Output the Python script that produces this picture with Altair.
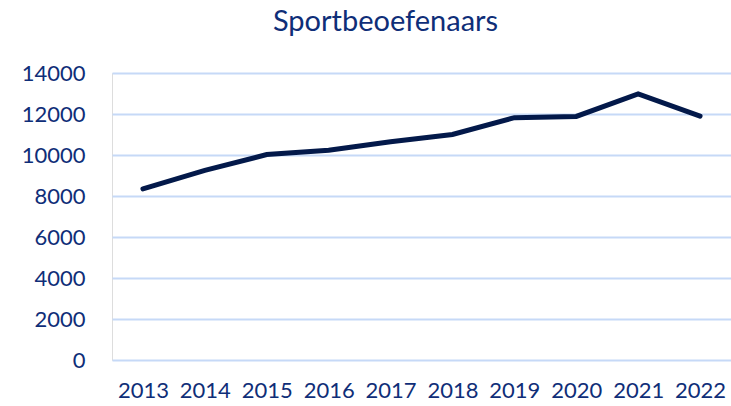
import altair as alt
import pandas as pd

years = ["2013", "2014", "2015", "2016", "2017", "2018", "2019", "2020", "2021", "2022"]
values = [8350, 9250, 10020, 10230, 10650, 11000, 11820, 11880, 12980, 11900]

df = pd.DataFrame({"year": years, "value": values})

TEXT = "#0F2E78"
LINE = "#03194A"
GRID = "#C6D9F7"

chart = alt.Chart(df).mark_line(
    color=LINE, strokeWidth=5, strokeCap="round", strokeJoin="miter"
).encode(
    x=alt.X("year:O", title=None, sort=years,
            scale=alt.Scale(type="point", padding=0.5),
            axis=alt.Axis(labelAngle=0, ticks=False, domain=False, grid=False,
                          labelFont="Lato", labelFontSize=22, labelColor=TEXT,
                          labelPadding=20)),
    y=alt.Y("value:Q", title=None,
            scale=alt.Scale(domain=[0, 14000], nice=False),
            axis=alt.Axis(values=list(range(0, 14001, 2000)), ticks=False, domain=False,
                          grid=True, gridColor=GRID, gridWidth=2,
                          labelFont="Lato", labelFontSize=22, labelColor=TEXT,
                          labelPadding=27, format="d")),
).properties(
    width=619,
    height=287,
    title=alt.TitleParams("Sportbeoefenaars", font="Lato", fontSize=29, fontWeight="normal",
                          color=TEXT, anchor="middle", dx=-36, offset=25),
    autosize=alt.AutoSizeParams(type="none"),
    padding={"left": 112, "top": 73, "right": 0, "bottom": 46},
).configure_view(stroke=None).configure(background="white")

chart.save("out.html", embed_options={"renderer": "svg", "actions": False})
